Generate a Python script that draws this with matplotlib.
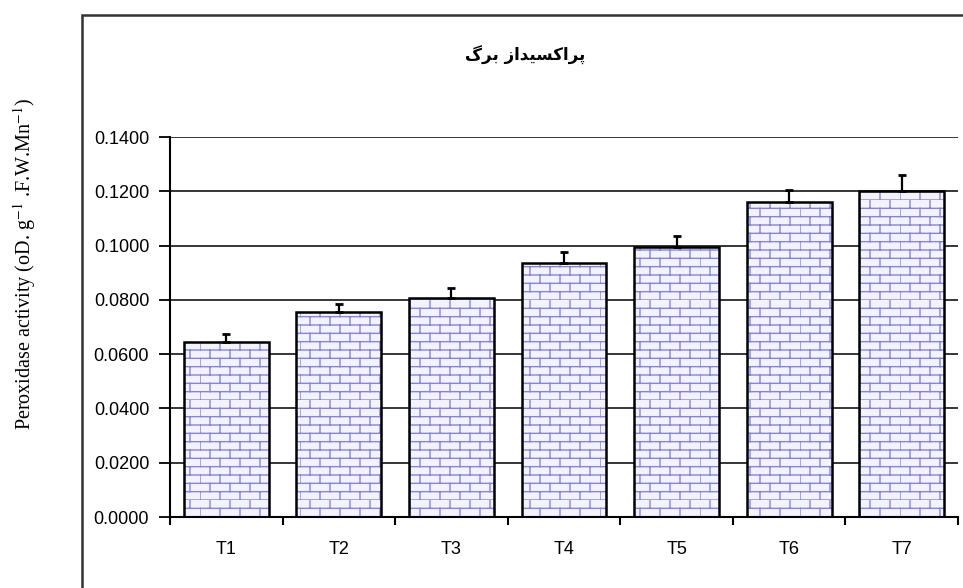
import warnings
import numpy as np
import matplotlib
matplotlib.use("Agg")
import matplotlib.pyplot as plt
from matplotlib import hatch as mhatch
from matplotlib.path import Path
from matplotlib.patches import Rectangle

warnings.filterwarnings("ignore")

# data
treatments = ["T1", "T2", "T3", "T4", "T5", "T6", "T7"]
activity = [0.0645, 0.0755, 0.0807, 0.0936, 0.0995, 0.1160, 0.1200]
errors = [0.0030, 0.0030, 0.0037, 0.0040, 0.0040, 0.0045, 0.0060]
y_ticks = [0.0, 0.02, 0.04, 0.06, 0.08, 0.10, 0.12, 0.14]

# title in visual order, using Arabic presentation forms (no shaping in matplotlib)
title_text = "\uFB92\uFEAE\uFE91 \uFEAF\uFE8D\uFEAA\uFBFF\uFEB4\uFB90\uFE8D\uFEAE\uFB58"


# brick hatch like the old Excel pattern
class BrickHatch(mhatch.HatchPatternBase):
    def __init__(self, hatch, density):
        self.rows = 12 if "b" in hatch else 0
        self.cols = 5
        self.num_lines = self.rows * (1 + self.cols)
        self.num_vertices = self.num_lines * 2

    def set_vertices_and_codes(self, vertices, codes):
        h = 1.0 / self.rows
        w = 1.0 / self.cols
        k = 0
        for r in range(self.rows):
            y0 = r * h
            vertices[k] = (0.0, y0)
            vertices[k + 1] = (1.0, y0)
            k += 2
            off = 0.0 if r % 2 == 0 else w / 2
            for c in range(self.cols):
                x = off + c * w
                vertices[k] = (x, y0)
                vertices[k + 1] = (x, y0 + h)
                k += 2
        codes[0::2] = Path.MOVETO
        codes[1::2] = Path.LINETO


mhatch._hatch_types.append(BrickHatch)

plt.rcParams["hatch.linewidth"] = 1.0
plt.rcParams["mathtext.fontset"] = "stix"

tick_font = ["Liberation Sans Narrow", "Liberation Sans", "DejaVu Sans"]

fig = plt.figure(figsize=(9.63, 5.88), dpi=100)
ax = fig.add_axes([170 / 963, 1 - 517 / 588, 788 / 963, 380 / 588])

x = np.arange(len(treatments))
# hatched fill
ax.bar(x, activity, width=0.755, color="#f3f3ff", edgecolor="#8585dd",
       hatch="b", linewidth=0.8, zorder=2)
# black outline
ax.bar(x, activity, width=0.755, color="none", edgecolor="black",
       linewidth=1.8, zorder=3)
ax.errorbar(x, activity, yerr=[np.zeros(len(errors)), errors], fmt="none",
            ecolor="black", elinewidth=1.6, capsize=3, capthick=2, zorder=4)

ax.set_xlim(-0.5, len(treatments) - 0.5)
ax.set_ylim(0, 0.14)
ax.set_yticks(y_ticks)
ax.set_yticklabels(["%.4f" % v for v in y_ticks], family=tick_font, fontsize=13)
ax.set_xticks(x)
ax.set_xticklabels(treatments, family=tick_font, fontsize=13)
ax.set_xticks(np.arange(-0.5, len(treatments)), minor=True)
ax.tick_params(axis="x", which="major", length=0, pad=17)
ax.tick_params(axis="x", which="minor", length=6, width=1.5, direction="out")
ax.tick_params(axis="y", length=8, width=1.3, direction="out", pad=7)

ax.yaxis.grid(True, color="black", linewidth=1.1)
ax.set_axisbelow(True)
for side in ["top", "right"]:
    ax.spines[side].set_visible(False)
for side in ["left", "bottom"]:
    ax.spines[side].set_linewidth(1.5)

# outer chart frame
frame = Rectangle((82 / 963, -0.05), 1.0, 1 - 15 / 588 + 0.05,
                  transform=fig.transFigure, fill=False, edgecolor="#333333",
                  linewidth=1.8, clip_on=False)
fig.patches.append(frame)

fig.text(525 / 963, 1 - 55 / 588, title_text, ha="center", va="center",
         fontsize=12, fontweight="bold", family="DejaVu Sans")

fig.text(25 / 963, 1 - 264 / 588,
         "Peroxidase activity (oD. g$^{-1}$ .F.W.Mn$^{-1}$)",
         rotation=90, ha="center", va="center", fontsize=14.5,
         family="Liberation Serif")

plt.savefig("out.png", dpi=100)
